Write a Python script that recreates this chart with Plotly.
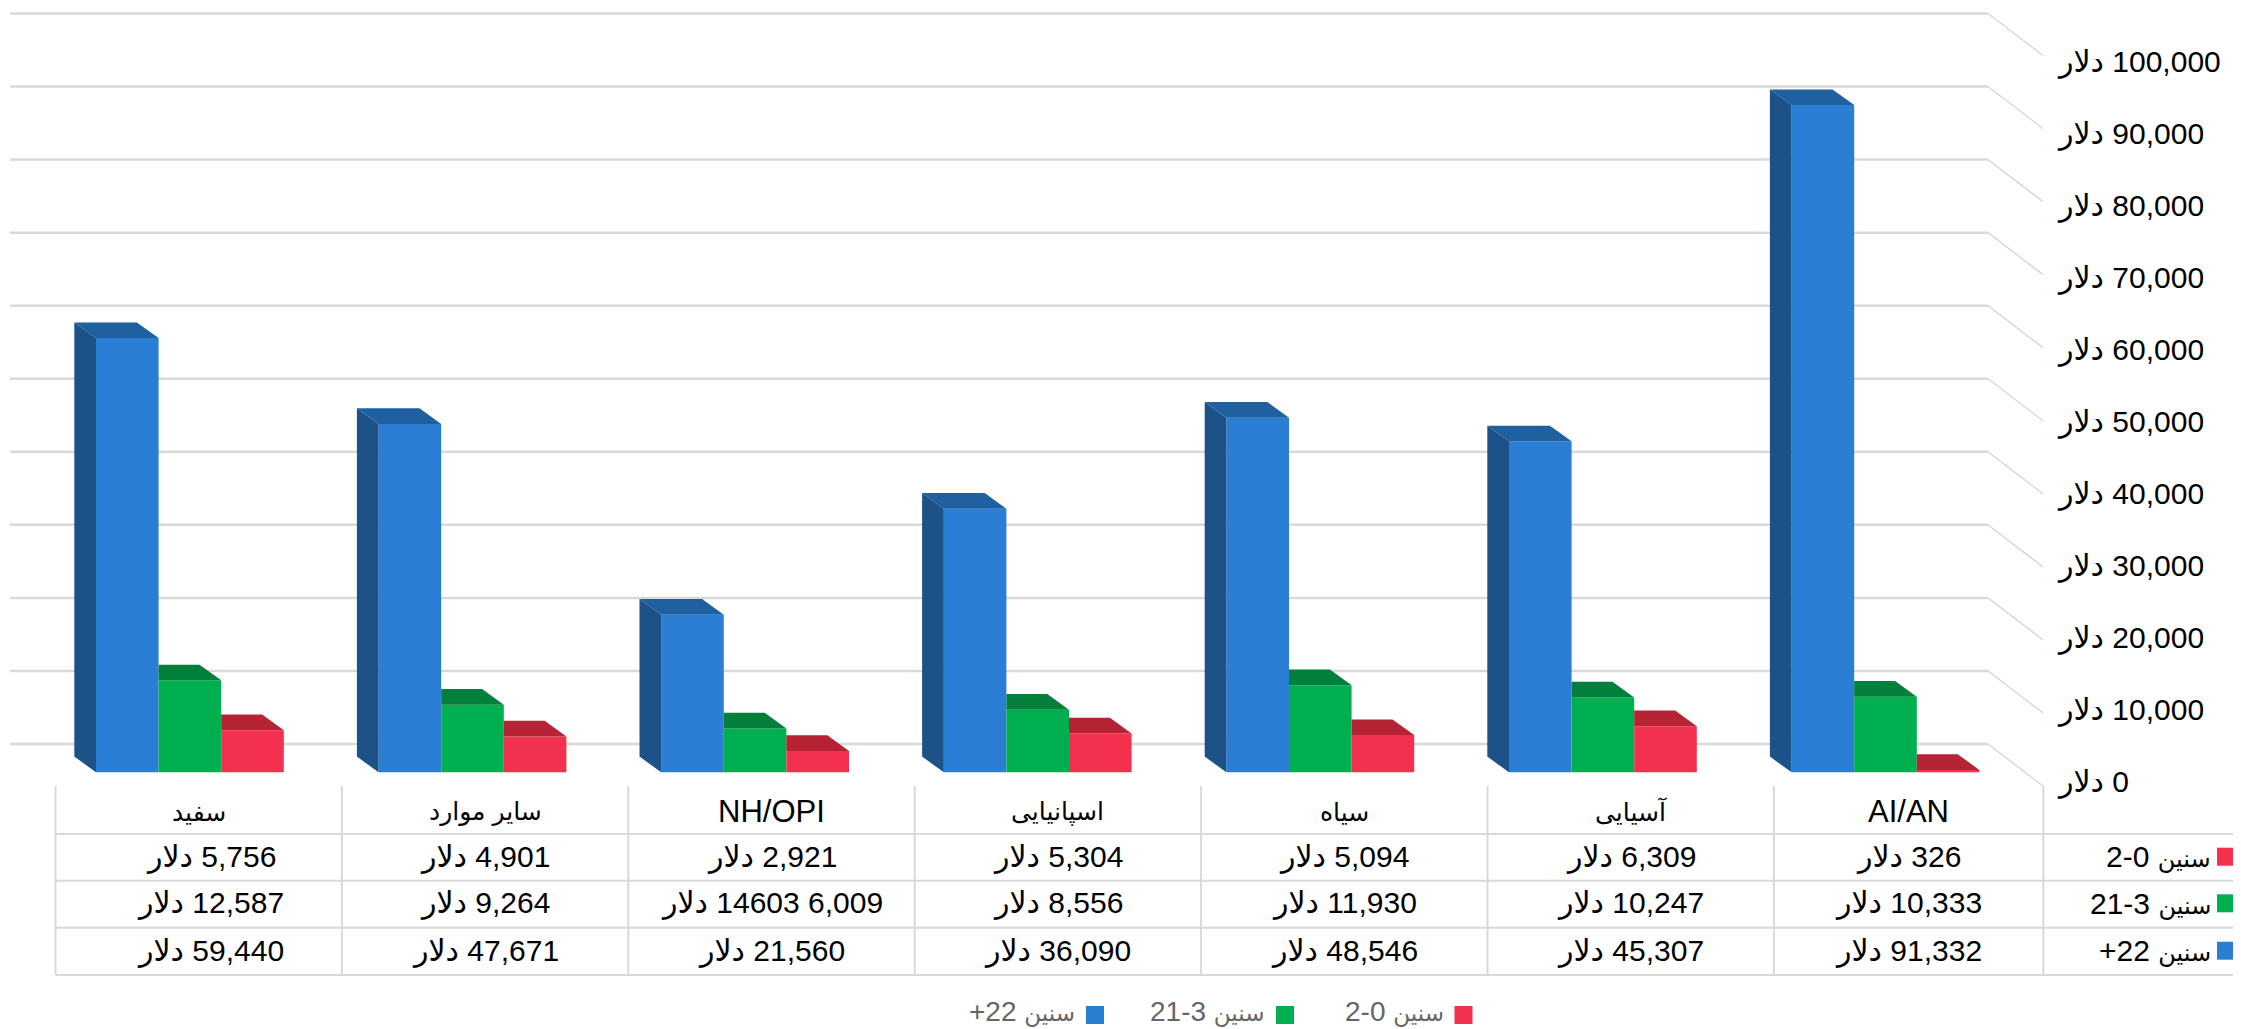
import plotly.graph_objects as go

categories = ["سفید", "سایر موارد", "NH/OPI", "اسپانیایی", "سیاه", "آسیایی", "AI/AN"]
age_groups = ["2-0", "21-3", "+22"]
ages_0_2 = [5756, 4901, 2921, 5304, 5094, 6309, 326]
ages_3_21 = [12587, 9264, 6009, 8556, 11930, 10247, 10333]
ages_22_plus = [59440, 47671, 21560, 36090, 48546, 45307, 91332]
axis_ticks = [0, 10000, 20000, 30000, 40000, 50000, 60000, 70000, 80000, 90000, 100000]

# the page keeps its 8px body margin, so the figure is smaller than the window
PAGE_W, PAGE_H = 2241, 1029
MARGIN = 8
W, H = PAGE_W - MARGIN, PAGE_H - MARGIN
FONT = "Liberation Sans, Arial, DejaVu Sans, sans-serif"
GRID = "#d9d9d9"

# page pixels per group and per dollar, the 3D look is worked out from these
PX_GROUP = 282.6
PX_DOLLAR = 0.007305
FIRST_BAR = 96
BASE_Y = 772.3
BAR_W = 62.6 / PX_GROUP
DEPTH_X = 21.7 / PX_GROUP
DEPTH_Y = 15.7 / PX_DOLLAR
WALL_SHIFT = 28.3 / PX_DOLLAR
FLOOR_DROP = 42 / PX_DOLLAR


def paper_x(px):
    return (px - MARGIN) / W


def paper_y(px):
    return 1 - (px - MARGIN) / H


def money(v):
    return f"دلار\u200e {v:,}"


def series_label(group, size):
    # the arabic fallback font runs wider than the latin one
    return f'{group} <span style="font-size:{size}px">سنین</span>'


fig = go.Figure()

# front faces, left to right inside each group
bars = [
    (ages_22_plus, "#2a7fd5", "#1f60a1", 0),
    (ages_3_21, "#00b050", "#00803a", 1),
    (ages_0_2, "#f2314e", "#b52335", 2),
]
for values, front, top, k in bars:
    fig.add_trace(go.Bar(
        x=[i + k * BAR_W for i in range(len(values))],
        y=values,
        width=BAR_W,
        offset=0,
        marker=dict(color=front, line=dict(width=0)),
        showlegend=False,
    ))

    # top face, the green and red ones start at the edge of the taller bar on their left
    tx, ty = [], []
    for i, v in enumerate(values):
        x0 = i + k * BAR_W
        x1 = x0 + BAR_W
        back_left = x0 - DEPTH_X if k == 0 else x0
        tx += [x0, x1, x1 - DEPTH_X, back_left, x0, None]
        ty += [v, v, v + DEPTH_Y, v + DEPTH_Y, v, None]
    fig.add_trace(go.Scatter(x=tx, y=ty, mode="lines", fill="toself", fillcolor=top,
                             line=dict(width=0), showlegend=False, hoverinfo="skip"))

# left side of the blue bars
sx, sy = [], []
for i, v in enumerate(ages_22_plus):
    sx += [i, i - DEPTH_X, i - DEPTH_X, i, i, None]
    sy += [0, DEPTH_Y, v + DEPTH_Y, v, 0, None]
fig.add_trace(go.Scatter(x=sx, y=sy, mode="lines", fill="toself", fillcolor="#1c5288",
                         line=dict(width=0), showlegend=False, hoverinfo="skip"))

# right hand axis with the dollar labels
fig.add_trace(go.Scatter(x=[0] * len(axis_ticks), y=axis_ticks, yaxis="y2", mode="markers",
                         marker=dict(opacity=0), showlegend=False, hoverinfo="skip"))

# back wall grid and the diagonal over the floor
shapes = []
wall_left = (10 - FIRST_BAR) / PX_GROUP
wall_right = (1988 - FIRST_BAR) / PX_GROUP
floor_right = (2043 - FIRST_BAR) / PX_GROUP
for t in axis_ticks:
    y = t + WALL_SHIFT
    shapes.append(dict(type="line", layer="below", xref="x", yref="y", x0=wall_left, x1=wall_right,
                       y0=y, y1=y, line=dict(color=GRID, width=2.5)))
    shapes.append(dict(type="line", layer="below", xref="x", yref="y", x0=wall_right, x1=floor_right,
                       y0=y, y1=y - FLOOR_DROP, line=dict(color=GRID, width=1.5)))

# data table under the chart
col_lines = [55.5 + 286.4 * i for i in range(7)] + [2043.3]
row_lines = [834, 880.7, 927.7, 975]
row_mid = [856.7, 903.3, 950.7]
for x in col_lines:
    shapes.append(dict(type="line", xref="paper", yref="paper", x0=paper_x(x), x1=paper_x(x),
                       y0=paper_y(786), y1=paper_y(row_lines[-1]), line=dict(color=GRID, width=2)))
for y in row_lines:
    shapes.append(dict(type="line", xref="paper", yref="paper", x0=paper_x(col_lines[0]), x1=1,
                       y0=paper_y(y), y1=paper_y(y), line=dict(color=GRID, width=2)))

annotations = []


def add_text(text, x, y, size=30, color="#000000", anchor="center"):
    annotations.append(dict(text=text, xref="paper", yref="paper", x=paper_x(x), y=paper_y(y),
                            xanchor=anchor, yanchor="middle", showarrow=False,
                            font=dict(family=FONT, size=size, color=color)))


def add_key(color, x, y):
    shapes.append(dict(type="rect", xref="paper", yref="paper", x0=paper_x(x), x1=paper_x(x + 18),
                       y0=paper_y(y - 9), y1=paper_y(y + 9), fillcolor=color, line=dict(width=0)))


green_labels = [money(v) for v in ages_3_21]
green_labels[2] = "دلار\u200e 14603 6,009"
rows = [[money(v) for v in ages_0_2], green_labels, [money(v) for v in ages_22_plus]]
key_colors = ["#f2314e", "#00b050", "#2a7fd5"]

for c, name in enumerate(categories):
    mid = (col_lines[c] + col_lines[c + 1]) / 2
    add_text(name, mid, 811.7, size=31 if name.isascii() else 25)
    # values in the first column sit right of centre in the reference
    cell_x = mid + 12 if c == 0 else mid
    for r in range(3):
        add_text(rows[r][c], cell_x, row_mid[r])
for r in range(3):
    add_text(series_label(age_groups[r], 24), 2213, row_mid[r], anchor="right")
    add_key(key_colors[r], 2217, row_mid[r])

# legend, key sits right of its text
legend_keys = [2, 1, 0]
legend_x = [1086, 1276, 1454.5]
for k, x in zip(legend_keys, legend_x):
    add_text(series_label(age_groups[k], 23), x - 9, 1011, size=28, color="#666666", anchor="right")
    add_key(key_colors[k], x, 1015)

fig.update_layout(
    width=W,
    height=H,
    margin=dict(l=0, r=0, t=0, b=0),
    paper_bgcolor="white",
    plot_bgcolor="white",
    barmode="overlay",
    showlegend=False,
    font=dict(family=FONT),
    shapes=shapes,
    annotations=annotations,
    xaxis=dict(visible=False, range=[(MARGIN - FIRST_BAR) / PX_GROUP, (PAGE_W - FIRST_BAR) / PX_GROUP]),
    yaxis=dict(visible=False, range=[-(PAGE_H - BASE_Y) / PX_DOLLAR, (BASE_Y - MARGIN) / PX_DOLLAR]),
    yaxis2=dict(
        overlaying="y",
        side="right",
        anchor="free",
        position=paper_x(2058),
        range=[-(PAGE_H - 781.5) / 0.0072, (781.5 - MARGIN) / 0.0072],
        tickmode="array",
        tickvals=axis_ticks,
        ticktext=[money(t) for t in axis_ticks],
        showgrid=False,
        zeroline=False,
        showline=False,
        ticks="",
        tickfont=dict(family=FONT, size=30, color="#000000"),
    ),
)

fig.write_html("out.html")
